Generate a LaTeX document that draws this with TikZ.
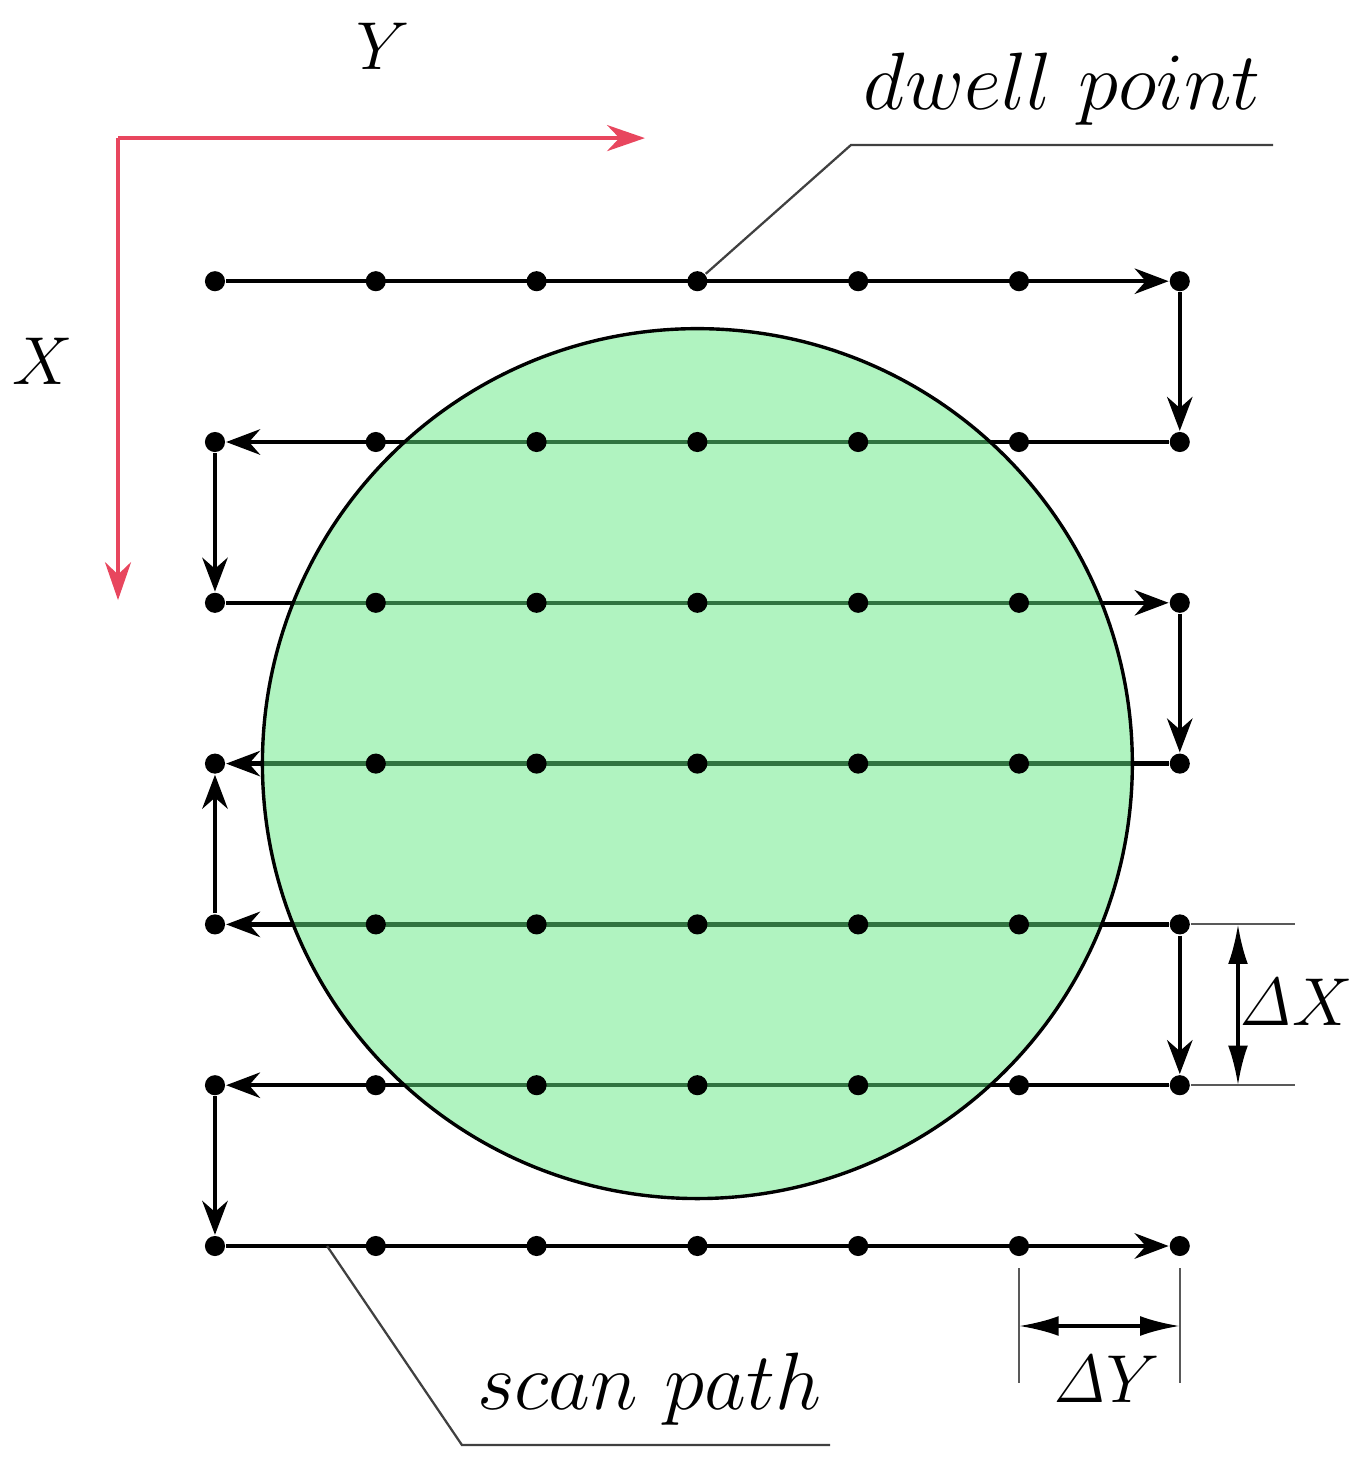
\documentclass[tikz,border=0pt]{standalone}
\usetikzlibrary{arrows.meta}
\pgfdeclarelayer{background}
\pgfsetlayers{background,main}
\definecolor{axisred}{RGB}{232,70,94}
\definecolor{spotgreen}{RGB}{97,231,129}
\tikzset{
	dwell/.style={circle, fill=black, inner sep=0pt, minimum size=1.25mm},
	scan/.style={line width=0.75pt, -{Stealth[length=6pt,width=4.5pt]}},
	leader/.style={line width=0.4pt, black!75},
	extline/.style={line width=0.35pt, black!65},
	dimarrow/.style={line width=0.6pt, {Latex[length=7pt,width=3.5pt]}-{Latex[length=7pt,width=3.5pt]}},
	axis/.style={axisred, line width=0.7pt, -{Stealth[length=6.7pt,width=4.6pt]}}
}
\begin{document}
\begin{tikzpicture}
	\useasboundingbox (-1.337,-1.393) rectangle (7.133,7.749);
	\foreach \i in {0,...,6}{
		\foreach \j in {0,...,6}{
			\node[dwell] (p-\i-\j) at (\i,\j) {};
		}
	}
	\begin{pgfonlayer}{background}
		\foreach \a/\b in {0-6/6-6, 6-5/0-5, 0-4/6-4, 6-3/0-3, 6-2/0-2, 6-1/0-1, 0-0/6-0}{
			\draw[scan] (p-\a) -- (p-\b);
		}
		\foreach \a/\b in {6-6/6-5, 0-5/0-4, 6-4/6-3, 0-2/0-3, 6-2/6-1, 0-1/0-0}{
			\draw[scan] (p-\a) -- (p-\b);
		}
		\fill[spotgreen, fill opacity=0.5] (3,3) circle (2.705);
		\draw[line width=0.6pt] (3,3) circle (2.705);
	\end{pgfonlayer}
	\coordinate (ax-o) at (-0.603,6.89);
	\coordinate (ax-y) at (2.674,6.89);
	\coordinate (ax-x) at (-0.603,4.017);
	\draw[axis] (ax-o) -- (ax-y);
	\draw[axis] (ax-o) -- (ax-x);
	\node (lbl-y) at (1.045,7.46) {\large$Y$};
	\node (lbl-x) at (-1.07,5.504) {\large$X$};
	\coordinate (dw-a) at (3.955,6.847);
	\coordinate (dw-b) at (6.58,6.847);
	\draw[leader] (p-3-6) -- (dw-a) -- (dw-b);
	\node[anchor=base] (lbl-dwell) at (5.27,7.065) {\Large$dwell\ point$};
	\coordinate (sp-a) at (0.697,0);
	\coordinate (sp-b) at (1.536,-1.238);
	\coordinate (sp-c) at (3.825,-1.238);
	\draw[leader] (sp-a) -- (sp-b) -- (sp-c);
	\node[anchor=base] (lbl-scan) at (2.70,-1.015) {\Large$scan\ path$};
	\coordinate (dx-a) at (6.716,2);
	\coordinate (dx-b) at (6.716,1);
	\draw[extline] (p-6-2) -- (dx-a);
	\draw[extline] (p-6-1) -- (dx-b);
	\coordinate (dx-top) at (6.362,2);
	\coordinate (dx-bot) at (6.362,1);
	\draw[dimarrow] (dx-top) -- (dx-bot);
	\node[anchor=base] (lbl-dx) at (6.72,1.374) {\large$\mathit{\Delta}X$};
	\coordinate (dy-a1) at (5,-0.137);
	\coordinate (dy-a2) at (5,-0.852);
	\coordinate (dy-b1) at (6,-0.137);
	\coordinate (dy-b2) at (6,-0.852);
	\draw[extline] (dy-a1) -- (dy-a2);
	\draw[extline] (dy-b1) -- (dy-b2);
	\coordinate (dy-l) at (5,-0.4975);
	\coordinate (dy-r) at (6,-0.4975);
	\draw[dimarrow] (dy-l) -- (dy-r);
	\node[anchor=base] (lbl-dy) at (5.54,-0.976) {\large$\mathit{\Delta}Y$};
\end{tikzpicture}
\end{document}
